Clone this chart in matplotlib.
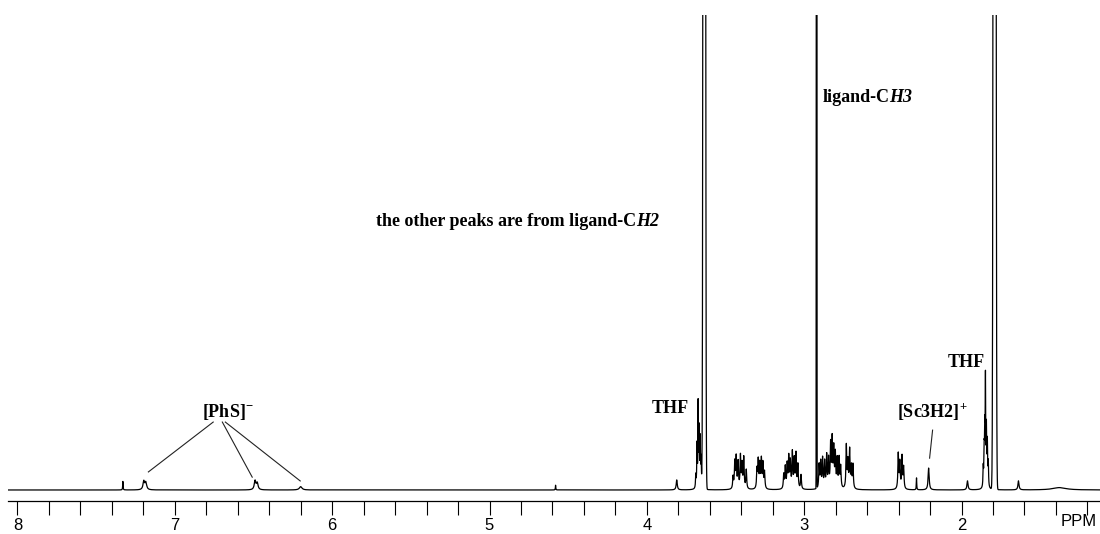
import numpy as np
import matplotlib
matplotlib.use("Agg")
import matplotlib.pyplot as plt
from matplotlib.ticker import MultipleLocator

plt.rcParams['mathtext.fontset'] = 'custom'
plt.rcParams['mathtext.rm'] = 'Liberation Serif:bold'
plt.rcParams['mathtext.it'] = 'Liberation Serif:bold:italic'

# small peaks (lorentzian lines): ppm, height, half width
peak_ppm = [7.33, 7.197, 7.184, 6.490, 6.476, 6.200, 4.58, 3.810,
            3.689, 3.681, 3.674, 3.668, 3.661, 3.655,
            3.452, 3.441, 3.432, 3.420, 3.405, 3.395, 3.384, 3.368,
            3.300, 3.292, 3.282, 3.272, 3.262, 3.252,
            3.130, 3.120, 3.108, 3.098, 3.088, 3.075, 3.063, 3.052, 3.040, 3.020,
            2.905, 2.895, 2.883, 2.870, 2.857, 2.845, 2.832, 2.822, 2.812,
            2.802, 2.790, 2.778, 2.768,
            2.732, 2.722, 2.711, 2.700, 2.690,
            2.402, 2.392, 2.378, 2.368, 2.286, 2.209, 1.962,
            1.862, 1.856, 1.852, 1.848, 1.842, 1.836, 1.830,
            1.638, 1.378]
peak_height = [0.018, 0.018, 0.015, 0.019, 0.014, 0.007, 0.010, 0.021,
               0.027, 0.09, 0.17, 0.12, 0.10, 0.06,
               0.025, 0.055, 0.065, 0.055, 0.068, 0.050, 0.065, 0.040,
               0.040, 0.058, 0.050, 0.060, 0.052, 0.035,
               0.030, 0.045, 0.050, 0.065, 0.055, 0.075, 0.060, 0.072, 0.050, 0.030,
               0.050, 0.055, 0.062, 0.055, 0.068, 0.060, 0.090, 0.100, 0.080,
               0.070, 0.060, 0.062, 0.045,
               0.090, 0.055, 0.080, 0.045, 0.050,
               0.074, 0.055, 0.068, 0.045, 0.025, 0.046, 0.019,
               0.04, 0.07, 0.11, 0.21, 0.12, 0.09, 0.05,
               0.019, 0.005]
peak_width = [0.0015, 0.006, 0.006, 0.006, 0.006, 0.010, 0.0015, 0.004,
              0.002, 0.002, 0.0015, 0.002, 0.002, 0.002,
              0.003, 0.003, 0.003, 0.003, 0.003, 0.003, 0.003, 0.003,
              0.003, 0.003, 0.003, 0.003, 0.003, 0.003,
              0.003, 0.003, 0.003, 0.003, 0.003, 0.003, 0.003, 0.003, 0.003, 0.003,
              0.003, 0.003, 0.003, 0.003, 0.003, 0.003, 0.003, 0.003, 0.003,
              0.003, 0.003, 0.003, 0.003,
              0.003, 0.003, 0.003, 0.003, 0.003,
              0.003, 0.003, 0.003, 0.003, 0.0015, 0.004, 0.004,
              0.002, 0.002, 0.002, 0.0015, 0.002, 0.002, 0.002,
              0.004, 0.05]

# off-scale peaks (THF, ligand-CH3, THF): ppm, height, gaussian sigma
big_ppm = [3.635, 2.921, 1.790]
big_height = [10.0, 20.0, 10.0]
big_sigma = [0.0045, 0.001, 0.005]

ppm = np.arange(1.10, 8.08, 0.0002)
spec = np.zeros_like(ppm)
for p, h, w in zip(peak_ppm, peak_height, peak_width):
    spec += h * w**2 / ((ppm - p)**2 + w**2)
for p, h, s in zip(big_ppm, big_height, big_sigma):
    spec += h * np.exp(-0.5 * ((ppm - p) / s)**2)

fig = plt.figure(figsize=(11, 5.34), dpi=100)
ax = fig.add_axes([0.0073, 0.0618, 0.9927, 0.9101])
ax.plot(ppm, spec, color='black', lw=0.9)
ax.set_xlim(8.06, 1.12)
ax.set_ylim(-0.0232, 1.0)

for s in ['top', 'right', 'left']:
    ax.spines[s].set_visible(False)
ax.spines['bottom'].set_linewidth(0.9)
ax.set_yticks([])
ax.xaxis.set_major_locator(MultipleLocator(1))
ax.xaxis.set_minor_locator(MultipleLocator(0.2))
ax.tick_params(axis='x', which='both', direction='out', length=10, width=0.8, pad=2)
ax.set_xticks([8, 7, 6, 5, 4, 3, 2])
ax.set_xticklabels(['8', '7', '6', '5', '4', '3', '2'],
                   fontfamily='Liberation Sans', fontsize=12)
ax.text(0.997, -0.0265, 'PPM', transform=ax.transAxes,
        fontfamily='Liberation Sans', fontsize=12, ha='right', va='top')

tkw = dict(fontfamily='Liberation Serif', fontweight='bold', fontsize=13)


def label(x, y, plain, italic):
    # plain bold part, then a bold italic part set right after it
    t = ax.text(x, y, plain, ha='left', va='baseline', **tkw)
    fig.canvas.draw()
    bb = t.get_window_extent()
    x2 = ax.transData.inverted().transform((bb.x1, 0))[0]
    ax.text(x2, y, italic, ha='left', va='baseline', fontstyle='italic', **tkw)


ax.text(6.825, 0.154, r'[PhS]$^{-}$', ha='left', va='baseline', **tkw)
for x1, y1, x2, y2 in [(6.756, 0.143, 7.168, 0.038),
                       (6.698, 0.143, 6.508, 0.027),
                       (6.679, 0.143, 6.203, 0.019)]:
    ax.plot([x1, x2], [y1, y2], color='#222222', lw=0.8)
ax.text(3.968, 0.162, 'THF', ha='left', va='baseline', **tkw)
ax.text(2.413, 0.154, r'[Sc3H2]$^{+}$', ha='left', va='baseline', **tkw)
ax.plot([2.184, 2.203], [0.126, 0.067], color='#222222', lw=0.8)
ax.text(2.09, 0.259, 'THF', ha='left', va='baseline', **tkw)
label(2.883, 0.817, 'ligand-C', 'H3')
label(5.721, 0.556, 'the other peaks are from ligand-C', 'H2')

fig.savefig('out.png', dpi=100)
